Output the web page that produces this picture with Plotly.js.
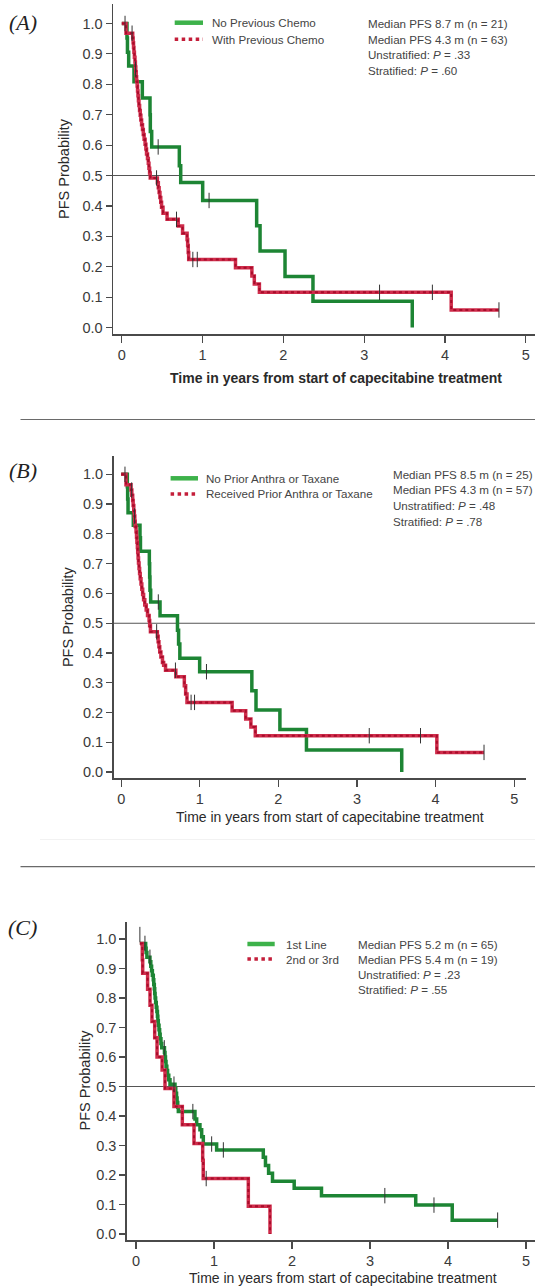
<!DOCTYPE html>
<html>
<head>
<meta charset="utf-8">
<script src="https://cdn.plot.ly/plotly-3.0.1.min.js"></script>
<style>html,body{margin:0;padding:0;background:#fff;}#chart{width:535px;height:1286px;}</style>
</head>
<body>
<div id="chart"></div>
<script>
// ---------------- DATA ----------------
// Panel A
const A_green_t = [0, 0.064, 0.07, 0.085, 0.151, 0.254, 0.349, 0.353, 0.37, 0.712, 0.729, 1.001, 1.669, 1.711, 2.02, 2.366, 3.595];
const A_green_s = [1.0, 0.952, 0.905, 0.86, 0.808, 0.755, 0.70, 0.645, 0.594, 0.532, 0.477, 0.418, 0.335, 0.252, 0.168, 0.087, 0];
const A_green_cens_t = [0.04, 0.45, 1.08];
const A_green_cens_s = [1.0, 0.594, 0.418];
const A_red_t = [0, 0.052, 0.135, 0.14, 0.145, 0.15, 0.156, 0.163, 0.168, 0.173, 0.178, 0.183, 0.19, 0.195, 0.2, 0.206, 0.212, 0.22, 0.228, 0.236, 0.245, 0.256, 0.266, 0.276, 0.288, 0.298, 0.306, 0.318, 0.328, 0.336, 0.344, 0.352, 0.44, 0.452, 0.462, 0.472, 0.482, 0.492, 0.51, 0.56, 0.698, 0.752, 0.808, 0.815, 0.822, 0.828, 1.407, 1.61, 1.64, 1.703, 4.077, 4.668];
const A_red_s = [1.0, 0.968, 0.952, 0.937, 0.921, 0.905, 0.889, 0.873, 0.857, 0.841, 0.825, 0.810, 0.794, 0.778, 0.762, 0.746, 0.730, 0.714, 0.698, 0.683, 0.667, 0.651, 0.635, 0.619, 0.603, 0.587, 0.571, 0.556, 0.540, 0.524, 0.508, 0.492, 0.476, 0.460, 0.444, 0.428, 0.412, 0.396, 0.376, 0.356, 0.334, 0.31, 0.29, 0.27, 0.247, 0.224, 0.197, 0.17, 0.143, 0.116, 0.058, 0.058];
const A_red_cens_t = [0.127, 0.17, 0.43, 0.677, 0.879, 0.934, 3.19, 3.844, 4.668];
const A_red_cens_s = [0.968, 0.85, 0.492, 0.356, 0.224, 0.224, 0.116, 0.116, 0.058];
const A_legend = ["No Previous Chemo", "With Previous Chemo"];
const A_stats = ["Median PFS 8.7 m (n = 21)", "Median PFS 4.3 m (n = 63)", "Unstratified: <i>P</i> = .33", "Stratified: <i>P</i> = .60"];

// Panel B
const B_green_t = [0, 0.078, 0.082, 0.087, 0.154, 0.239, 0.245, 0.358, 0.362, 0.366, 0.375, 0.494, 0.716, 0.73, 0.746, 0.998, 1.662, 1.715, 2.019, 2.357, 3.569];
const B_green_s = [1.0, 0.958, 0.917, 0.871, 0.829, 0.787, 0.742, 0.70, 0.655, 0.611, 0.571, 0.525, 0.476, 0.43, 0.382, 0.337, 0.273, 0.208, 0.143, 0.074, 0];
const B_green_cens_t = [0.048, 0.472, 1.085];
const B_green_cens_s = [1.0, 0.571, 0.337];
const B_red_t = [0, 0.061, 0.125, 0.135, 0.146, 0.152, 0.16, 0.167, 0.173, 0.178, 0.189, 0.195, 0.2, 0.206, 0.21, 0.215, 0.22, 0.227, 0.234, 0.242, 0.252, 0.262, 0.273, 0.285, 0.3, 0.318, 0.335, 0.355, 0.362, 0.372, 0.46, 0.47, 0.48, 0.49, 0.505, 0.525, 0.54, 0.564, 0.695, 0.803, 0.82, 0.837, 1.411, 1.584, 1.65, 1.706, 4.016, 4.616];
const B_red_s = [1.0, 0.965, 0.947, 0.930, 0.912, 0.895, 0.877, 0.860, 0.842, 0.825, 0.807, 0.789, 0.772, 0.754, 0.737, 0.719, 0.702, 0.684, 0.667, 0.649, 0.632, 0.614, 0.596, 0.579, 0.561, 0.544, 0.526, 0.509, 0.491, 0.471, 0.456, 0.438, 0.421, 0.403, 0.386, 0.368, 0.359, 0.342, 0.32, 0.29, 0.262, 0.234, 0.206, 0.178, 0.151, 0.122, 0.066, 0.066];
const B_red_cens_t = [0.133, 0.17, 0.451, 0.69, 0.889, 0.933, 3.156, 3.808, 4.616];
const B_red_cens_s = [0.947, 0.86, 0.471, 0.342, 0.234, 0.234, 0.122, 0.122, 0.066];
const B_legend = ["No Prior Anthra or Taxane", "Received Prior Anthra or Taxane"];
const B_stats = ["Median PFS 8.5 m (n = 25)", "Median PFS 4.3 m (n = 57)", "Unstratified: <i>P</i> = .48", "Stratified: <i>P</i> = .78"];

// Panel C
const C_green_t = [0.05, 0.124, 0.13, 0.14, 0.179, 0.19, 0.2, 0.21, 0.222, 0.228, 0.235, 0.24, 0.245, 0.252, 0.26, 0.268, 0.275, 0.28, 0.286, 0.295, 0.303, 0.31, 0.32, 0.33, 0.365, 0.372, 0.378, 0.385, 0.395, 0.405, 0.42, 0.436, 0.5, 0.51, 0.52, 0.527, 0.535, 0.543, 0.756, 0.778, 0.82, 0.842, 0.863, 1.034, 1.632, 1.66, 1.70, 1.75, 2.028, 2.378, 3.586, 4.054, 4.636];
const C_green_s = [0.985, 0.969, 0.954, 0.938, 0.923, 0.908, 0.892, 0.877, 0.862, 0.846, 0.831, 0.815, 0.800, 0.785, 0.769, 0.754, 0.738, 0.723, 0.708, 0.692, 0.677, 0.662, 0.646, 0.631, 0.615, 0.600, 0.585, 0.569, 0.554, 0.538, 0.523, 0.508, 0.492, 0.477, 0.461, 0.446, 0.43, 0.415, 0.39, 0.37, 0.353, 0.33, 0.305, 0.285, 0.26, 0.232, 0.206, 0.179, 0.155, 0.13, 0.098, 0.047, 0.047];
const C_green_cens_t = [0.05, 0.115, 0.179, 0.363, 0.487, 0.729, 0.97, 1.12, 3.19, 3.82, 4.636];
const C_green_cens_s = [1.015, 0.985, 0.938, 0.631, 0.508, 0.415, 0.305, 0.285, 0.13, 0.098, 0.047];
const C_red_t = [0.05, 0.081, 0.086, 0.149, 0.18, 0.205, 0.24, 0.27, 0.335, 0.372, 0.487, 0.594, 0.744, 0.855, 0.862, 1.44, 1.718];
const C_red_s = [0.985, 0.93, 0.884, 0.83, 0.775, 0.72, 0.665, 0.6, 0.556, 0.493, 0.432, 0.37, 0.307, 0.25, 0.188, 0.094, 0];
const C_red_cens_t = [0.9];
const C_red_cens_s = [0.188];
const C_legend = ["1st Line", "2nd or 3rd"];
const C_stats = ["Median PFS 5.2 m (n = 65)", "Median PFS 5.4 m (n = 19)", "Unstratified: <i>P</i> = .23", "Stratified: <i>P</i> = .55"];

const panelLabels = ["(A)", "(B)", "(C)"];
const xTickVals = [0, 1, 2, 3, 4, 5];
const xTitle = "Time in years from start of capecitabine treatment";
const yTitle = "PFS Probability";

// ---------------- STYLE / LAYOUT ----------------
const W = 535, H = 1286;
const px = v => v / W;          // pixel -> paper x
const py = v => 1 - v / H;      // pixel -> paper y
const GREEN = '#1d8534', GREEN_LEG = '#3db24a';
const RED_BASE = '#cf2d4b', RED_DOT = '#a80c2b';
const FONT = 'Liberation Sans, Arial, sans-serif';
const SMALL = 11.6;

const panels = [
  {gt: A_green_t, gs: A_green_s, gct: A_green_cens_t, gcs: A_green_cens_s,
   rt: A_red_t, rs: A_red_s, rct: A_red_cens_t, rcs: A_red_cens_s,
   legend: A_legend, stats: A_stats,
   xdom: [113, 535], ydom: [4, 334.3], xr: [-0.109, 5.114], yr: [-0.022, 1.064],
   leg: {x0: 174.7, x1: 203, y: [22.7, 39.3], tx: 210},
   st: {x: 366, y: [23.3, 39, 54.3, 70.7]},
   lab: {x: 22.5, y: 23}, xt: {x: 335.5, y: 378, bold: true}, yt: {x: 64, y: 169}},
  {gt: B_green_t, gs: B_green_s, gct: B_green_cens_t, gcs: B_green_cens_s,
   rt: B_red_t, rs: B_red_s, rct: B_red_cens_t, rcs: B_red_cens_s,
   legend: B_legend, stats: B_stats,
   xdom: [113.5, 525.6], ydom: [456, 778.3], xr: [-0.098, 5.145], yr: [-0.021, 1.0615],
   leg: {x0: 170.6, x1: 198, y: [478.3, 494], tx: 204},
   st: {x: 391, y: [474.3, 490, 505.7, 521]},
   lab: {x: 23, y: 470.5}, xt: {x: 330, y: 816.7, bold: false}, yt: {x: 67.4, y: 616.7}},
  {gt: C_green_t, gs: C_green_s, gct: C_green_cens_t, gcs: C_green_cens_s,
   rt: C_red_t, rs: C_red_s, rct: C_red_cens_t, rcs: C_red_cens_s,
   legend: C_legend, stats: C_stats,
   xdom: [126.7, 535], ydom: [921.7, 1240], xr: [-0.119, 5.115], yr: [-0.0203, 1.0586],
   leg: {x0: 247.4, x1: 274.7, y: [944, 959], tx: 284},
   st: {x: 355.6, y: [944, 959, 974, 989.7]},
   lab: {x: 22.5, y: 927}, xt: {x: 343, y: 1278, bold: false}, yt: {x: 84.5, y: 1080}}
];

const traces = [];
const shapes = [];
const annotations = [];
const layout = {
  width: W, height: H,
  margin: {l: 0, r: 0, t: 0, b: 0},
  paper_bgcolor: '#fff', plot_bgcolor: 'rgba(0,0,0,0)',
  showlegend: false,
  font: {family: FONT, color: '#333'}
};

panels.forEach((p, i) => {
  const n = i === 0 ? '' : String(i + 1);
  const xa = 'x' + n, ya = 'y' + n;
  layout['xaxis' + n] = {
    domain: [px(p.xdom[0]), px(p.xdom[1])], range: p.xr, anchor: ya,
    showline: true, linecolor: '#4a4a4a', linewidth: 1.5, mirror: false,
    ticks: 'outside', ticklen: 7, tickwidth: 1.2, tickcolor: '#4a4a4a',
    tickvals: xTickVals, showgrid: false, zeroline: false,
    tickfont: {size: 14.5, color: '#3a3a3a'}, fixedrange: true
  };
  layout['yaxis' + n] = {
    domain: [py(p.ydom[1]), py(p.ydom[0])], range: p.yr, anchor: xa,
    showline: true, linecolor: '#4a4a4a', linewidth: 1.5,
    ticks: 'outside', ticklen: 6, tickwidth: 1.2, tickcolor: '#4a4a4a',
    tick0: 0, dtick: 0.1, tickformat: '.1f', showgrid: false, zeroline: false,
    tickfont: {size: 14.5, color: '#3a3a3a'}, fixedrange: true
  };
  // curves
  traces.push({x: p.gt, y: p.gs, xaxis: xa, yaxis: ya, mode: 'lines', type: 'scatter',
               line: {shape: 'hv', color: GREEN, width: 3.5}, hoverinfo: 'skip'});
  traces.push({x: p.rt, y: p.rs, xaxis: xa, yaxis: ya, mode: 'lines', type: 'scatter',
               line: {shape: 'hv', color: RED_BASE, width: 3.5}, hoverinfo: 'skip'});
  traces.push({x: p.rt, y: p.rs, xaxis: xa, yaxis: ya, mode: 'lines', type: 'scatter',
               line: {shape: 'hv', color: RED_DOT, width: 2, dash: 'dot'}, hoverinfo: 'skip'});
  // censor ticks
  traces.push({x: p.gct.concat(p.rct), y: p.gcs.concat(p.rcs), xaxis: xa, yaxis: ya,
               mode: 'markers', type: 'scatter', hoverinfo: 'skip',
               marker: {symbol: 'line-ns-open', size: 11, color: '#333',
                        line: {width: 1, color: '#333'}}});
  // median reference line
  shapes.push({type: 'line', xref: 'paper', yref: ya, x0: px(p.xdom[0]), x1: 1,
               y0: 0.5, y1: 0.5, line: {color: '#555', width: 1.1}, layer: 'below'});
  // legend samples
  shapes.push({type: 'line', xref: 'paper', yref: 'paper', x0: px(p.leg.x0), x1: px(p.leg.x1),
               y0: py(p.leg.y[0]), y1: py(p.leg.y[0]), line: {color: GREEN_LEG, width: 4.5}});
  shapes.push({type: 'line', xref: 'paper', yref: 'paper', x0: px(p.leg.x0), x1: px(p.leg.x1),
               y0: py(p.leg.y[1]), y1: py(p.leg.y[1]), line: {color: '#c41e3a', width: 3.5, dash: 'dot'}});
  p.legend.forEach((t, k) => annotations.push({
    xref: 'paper', yref: 'paper', x: px(p.leg.tx), y: py(p.leg.y[k]), xanchor: 'left', yanchor: 'middle',
    text: t, showarrow: false, font: {size: SMALL, color: '#444', family: FONT}}));
  p.stats.forEach((t, k) => annotations.push({
    xref: 'paper', yref: 'paper', x: px(p.st.x), y: py(p.st.y[k]), xanchor: 'left', yanchor: 'middle',
    text: t, showarrow: false, font: {size: SMALL, color: '#444', family: FONT}}));
  // panel label
  annotations.push({xref: 'paper', yref: 'paper', x: px(p.lab.x), y: py(p.lab.y), xanchor: 'center', yanchor: 'middle',
    text: '<i>' + panelLabels[i] + '</i>', showarrow: false,
    font: {size: 22, color: '#222', family: 'Liberation Serif, DejaVu Serif, serif'}});
  // axis titles
  annotations.push({xref: 'paper', yref: 'paper', x: px(p.xt.x), y: py(p.xt.y), xanchor: 'center', yanchor: 'middle',
    text: p.xt.bold ? '<b>' + xTitle + '</b>' : xTitle, showarrow: false,
    font: {size: 14, color: '#2a2a2a', family: FONT}});
  annotations.push({xref: 'paper', yref: 'paper', x: px(p.yt.x), y: py(p.yt.y), xanchor: 'center', yanchor: 'middle',
    text: yTitle, textangle: -90, showarrow: false,
    font: {size: 14.5, color: '#2a2a2a', family: FONT}});
});

// separators between panels
shapes.push({type: 'line', xref: 'paper', yref: 'paper', x0: px(20.5), x1: 1, y0: py(419.5), y1: py(419.5),
             line: {color: '#6a6a6a', width: 1.2}});
shapes.push({type: 'line', xref: 'paper', yref: 'paper', x0: px(40), x1: 1, y0: py(839.5), y1: py(839.5),
             line: {color: '#f2f2f2', width: 1}});
shapes.push({type: 'line', xref: 'paper', yref: 'paper', x0: px(20.5), x1: 1, y0: py(866.7), y1: py(866.7),
             line: {color: '#6a6a6a', width: 1.2}});

layout.shapes = shapes;
layout.annotations = annotations;

Plotly.newPlot('chart', traces, layout, {displayModeBar: false, staticPlot: true});
</script>
</body>
</html>
